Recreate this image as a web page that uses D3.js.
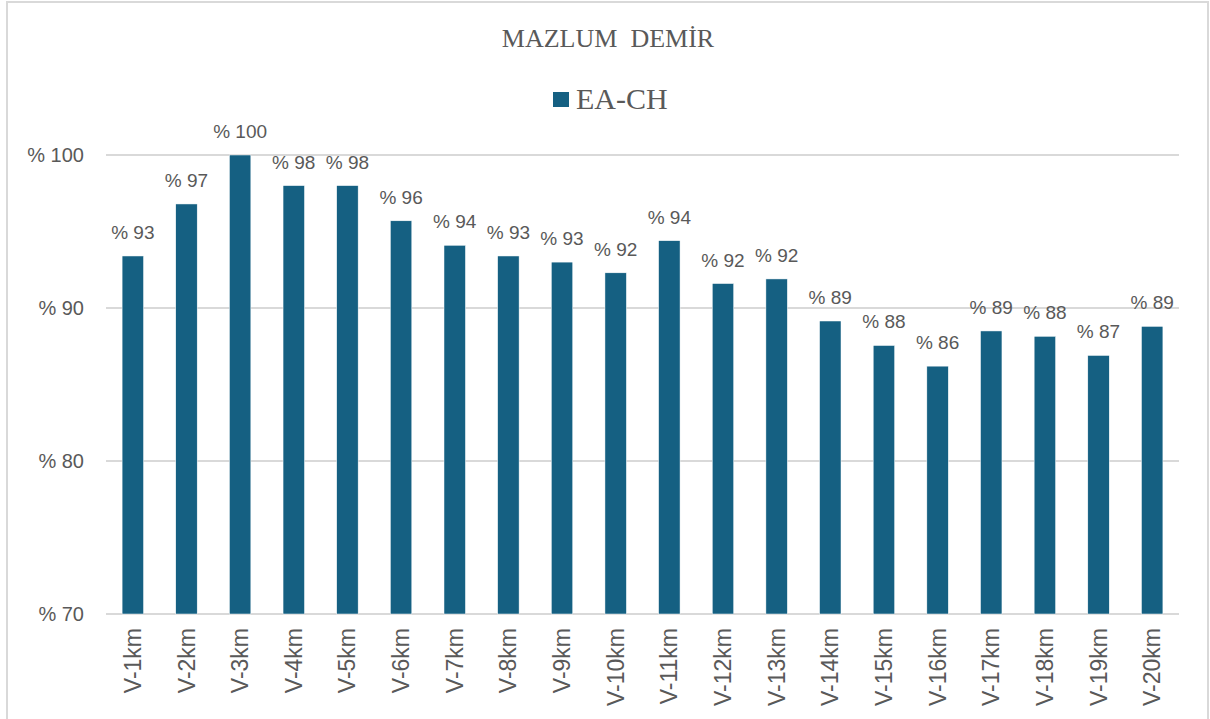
<!DOCTYPE html>
<html>
<head>
<meta charset="utf-8">
<script src="https://cdn.jsdelivr.net/npm/d3@7"></script>
<style>
  html, body { margin: 0; padding: 0; background: #fff; }
  svg { display: block; }
</style>
</head>
<body>
<svg id="chart" width="1210" height="719"></svg>
<script>
const title = "MAZLUM  DEMİR";
const seriesName = "EA-CH";
const categories = ["V-1km","V-2km","V-3km","V-4km","V-5km","V-6km","V-7km","V-8km","V-9km","V-10km",
  "V-11km","V-12km","V-13km","V-14km","V-15km","V-16km","V-17km","V-18km","V-19km","V-20km"];
const values = [93.4, 96.8, 100.0, 98.0, 98.0, 95.7, 94.1, 93.4, 93.0, 92.3,
  94.4, 91.6, 91.9, 89.15, 87.55, 86.2, 88.5, 88.15, 86.9, 88.8];
const yTicks = [70, 80, 90, 100];

const W = 1210, H = 719;
const margin = { left: 106, right: 31, top: 155, bottom: 105 };
const blue = "#156082";
const gray = "#595959";
const grid = "#d9d9d9";

const svg = d3.select("#chart");

// outer frame
svg.append("rect")
  .attr("x", 7).attr("y", 2).attr("width", 1201).attr("height", 740)
  .attr("fill", "#fff").attr("stroke", grid).attr("stroke-width", 2);

const x = d3.scaleBand()
  .domain(categories)
  .range([margin.left, W - margin.right])
  .paddingInner(0.6)
  .paddingOuter(0.3);

const y = d3.scaleLinear()
  .domain([70, 100])
  .range([H - margin.bottom, margin.top]);

// gridlines
svg.append("g")
  .selectAll("line")
  .data(yTicks)
  .join("line")
  .attr("x1", margin.left).attr("x2", W - margin.right)
  .attr("y1", d => y(d)).attr("y2", d => y(d))
  .attr("stroke", grid).attr("stroke-width", 2);

// y axis labels
const yAxis = d3.axisLeft(y).tickValues(yTicks).tickSize(0).tickPadding(22)
  .tickFormat(d => "% " + d);
svg.append("g")
  .attr("transform", `translate(${margin.left},0)`)
  .call(yAxis)
  .call(g => g.select(".domain").remove())
  .call(g => g.selectAll("text")
    .attr("fill", gray)
    .attr("font-family", "'Liberation Sans', Arial, sans-serif")
    .attr("font-size", 20));

// bars
svg.append("g")
  .selectAll("rect")
  .data(values)
  .join("rect")
  .attr("x", (d, i) => x(categories[i]))
  .attr("width", x.bandwidth())
  .attr("y", d => y(d))
  .attr("height", d => y(70) - y(d))
  .attr("fill", blue)
  .attr("stroke", "#ffffff").attr("stroke-width", 0.5);

// data labels
svg.append("g")
  .selectAll("text")
  .data(values)
  .join("text")
  .attr("x", (d, i) => x(categories[i]) + x.bandwidth() / 2)
  .attr("y", d => y(d) - 17)
  .attr("text-anchor", "middle")
  .attr("fill", gray)
  .attr("font-family", "'Liberation Sans', Arial, sans-serif")
  .attr("font-size", 19)
  .text(d => "% " + Math.round(d));

// x axis labels
const xAxis = d3.axisBottom(x).tickSize(0).tickPadding(0);
svg.append("g")
  .attr("transform", `translate(0,${H - margin.bottom})`)
  .call(xAxis)
  .call(g => g.select(".domain").remove())
  .call(g => g.selectAll("text")
    .attr("fill", gray)
    .attr("font-family", "'Liberation Sans', Arial, sans-serif")
    .attr("font-size", 23)
    .attr("text-anchor", "end")
    .attr("transform", "rotate(-90)")
    .attr("x", -14)
    .attr("y", 0)
    .attr("dy", "0.35em"));

// title
svg.append("text")
  .attr("x", 608).attr("y", 47)
  .attr("text-anchor", "middle")
  .attr("fill", gray)
  .attr("font-family", "'Liberation Serif', 'Times New Roman', serif")
  .attr("font-size", 26)
  .style("white-space", "pre")
  .attr("xml:space", "preserve")
  .text(title);

// legend
const lg = svg.append("g");
lg.append("rect")
  .attr("x", 553).attr("y", 92).attr("width", 16).attr("height", 15)
  .attr("fill", blue);
lg.append("text")
  .attr("x", 576).attr("y", 109)
  .attr("fill", gray)
  .attr("font-family", "'Liberation Serif', 'Times New Roman', serif")
  .attr("font-size", 30)
  .text(seriesName);
</script>
</body>
</html>
